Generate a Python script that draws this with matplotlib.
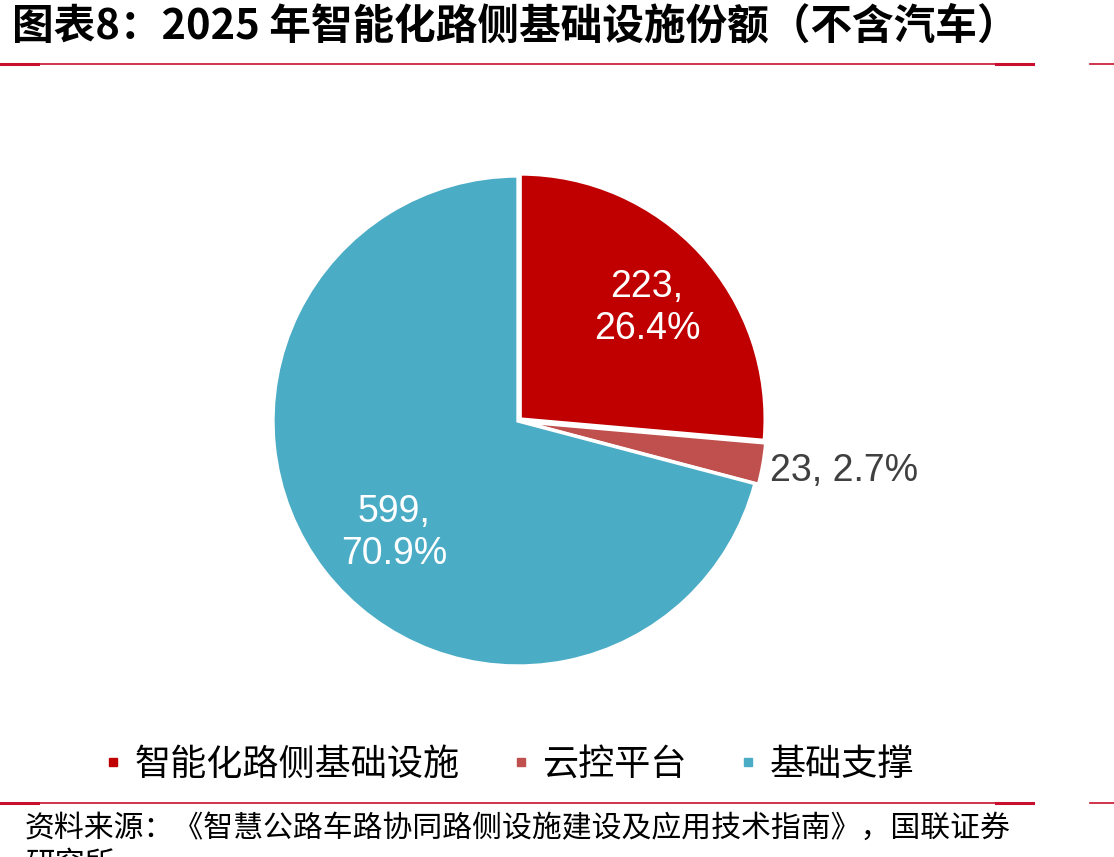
import numpy as np
import matplotlib.pyplot as plt
from matplotlib.lines import Line2D

plt.rcParams['font.family'] = ['Noto Sans CJK SC', 'DejaVu Sans']

categories = ['智能化路侧基础设施', '云控平台', '基础支撑']
values = [223, 23, 599]
colors = ['#C00000', '#C0504D', '#4BACC6']
explode = [0.012, 0.015, 0.0]

W, H = 1114, 857
fig = plt.figure(figsize=(W / 100, H / 100), dpi=100)

# pie axes: center (518, 421) px, radius 245 px
cx, cy, r = 518, 421, 245
half = 270
ax = fig.add_axes([(cx - half) / W, 1 - (cy + half) / H, 2 * half / W, 2 * half / H])
wedges, _ = ax.pie(values, colors=colors, startangle=90, counterclock=False,
                   explode=explode, radius=1.0,
                   wedgeprops=dict(edgecolor='white', linewidth=2.4))
lim = half / r
ax.set_xlim(-lim, lim)
ax.set_ylim(-lim, lim)
ax.axis('off')

total = sum(values)
label_r = [0.70, 1.05, 0.68]
label_dang = [-1.3, -1.3, 4.5]
for i, w in enumerate(wedges):
    ang = np.deg2rad((w.theta1 + w.theta2) / 2 + label_dang[i])
    pct = values[i] / total * 100
    x = label_r[i] * np.cos(ang)
    y = label_r[i] * np.sin(ang)
    if i == 1:
        ax.text(x, y, f'{values[i]}, {pct:.1f}%', ha='left', va='center',
                fontsize=27, color='#404040', family=['Liberation Sans', 'DejaVu Sans'])
    else:
        ax.text(x, y, f'{values[i]},\n{pct:.1f}%', ha='center', va='center',
                fontsize=27, color='white', linespacing=1.22,
                family=['Liberation Sans', 'DejaVu Sans'])

# title
fig.text(12 / W, 1 - 26 / H, '图表8：2025 年智能化路侧基础设施份额（不含汽车）',
         fontsize=30, fontweight='bold', ha='left', va='center')

# red rules
line_col = '#C8102E'
for yy in (64, 803):
    fy = 1 - yy / H
    fig.add_artist(Line2D([0, 1033 / W], [fy, fy], color=line_col, lw=1.2))
    fig.add_artist(Line2D([1090 / W, 1], [fy, fy], color=line_col, lw=1.2))
    fig.add_artist(Line2D([0, 38 / W], [fy, fy], color=line_col, lw=2.2))
    fig.add_artist(Line2D([996 / W, 1033 / W], [fy, fy], color=line_col, lw=2.2))

# legend
handles = [Line2D([], [], marker='s', linestyle='none', markersize=6,
                  markerfacecolor=c, markeredgecolor=c) for c in colors]
fig.legend(handles, categories, loc='center', bbox_to_anchor=(510 / W, 1 - 765 / H),
           ncol=3, frameon=False, fontsize=26, handlelength=0.4, handletextpad=0.4,
           columnspacing=1.5)

# source
fig.text(25 / W, 1 - 828 / H, '资料来源：《智慧公路车路协同路侧设施建设及应用技术指南》，国联证券',
         fontsize=21.5, ha='left', va='center')
fig.text(25 / W, 1 - 849 / H, '研究所', fontsize=21.5, ha='left', va='top')

fig.savefig('out.png', dpi=100)
